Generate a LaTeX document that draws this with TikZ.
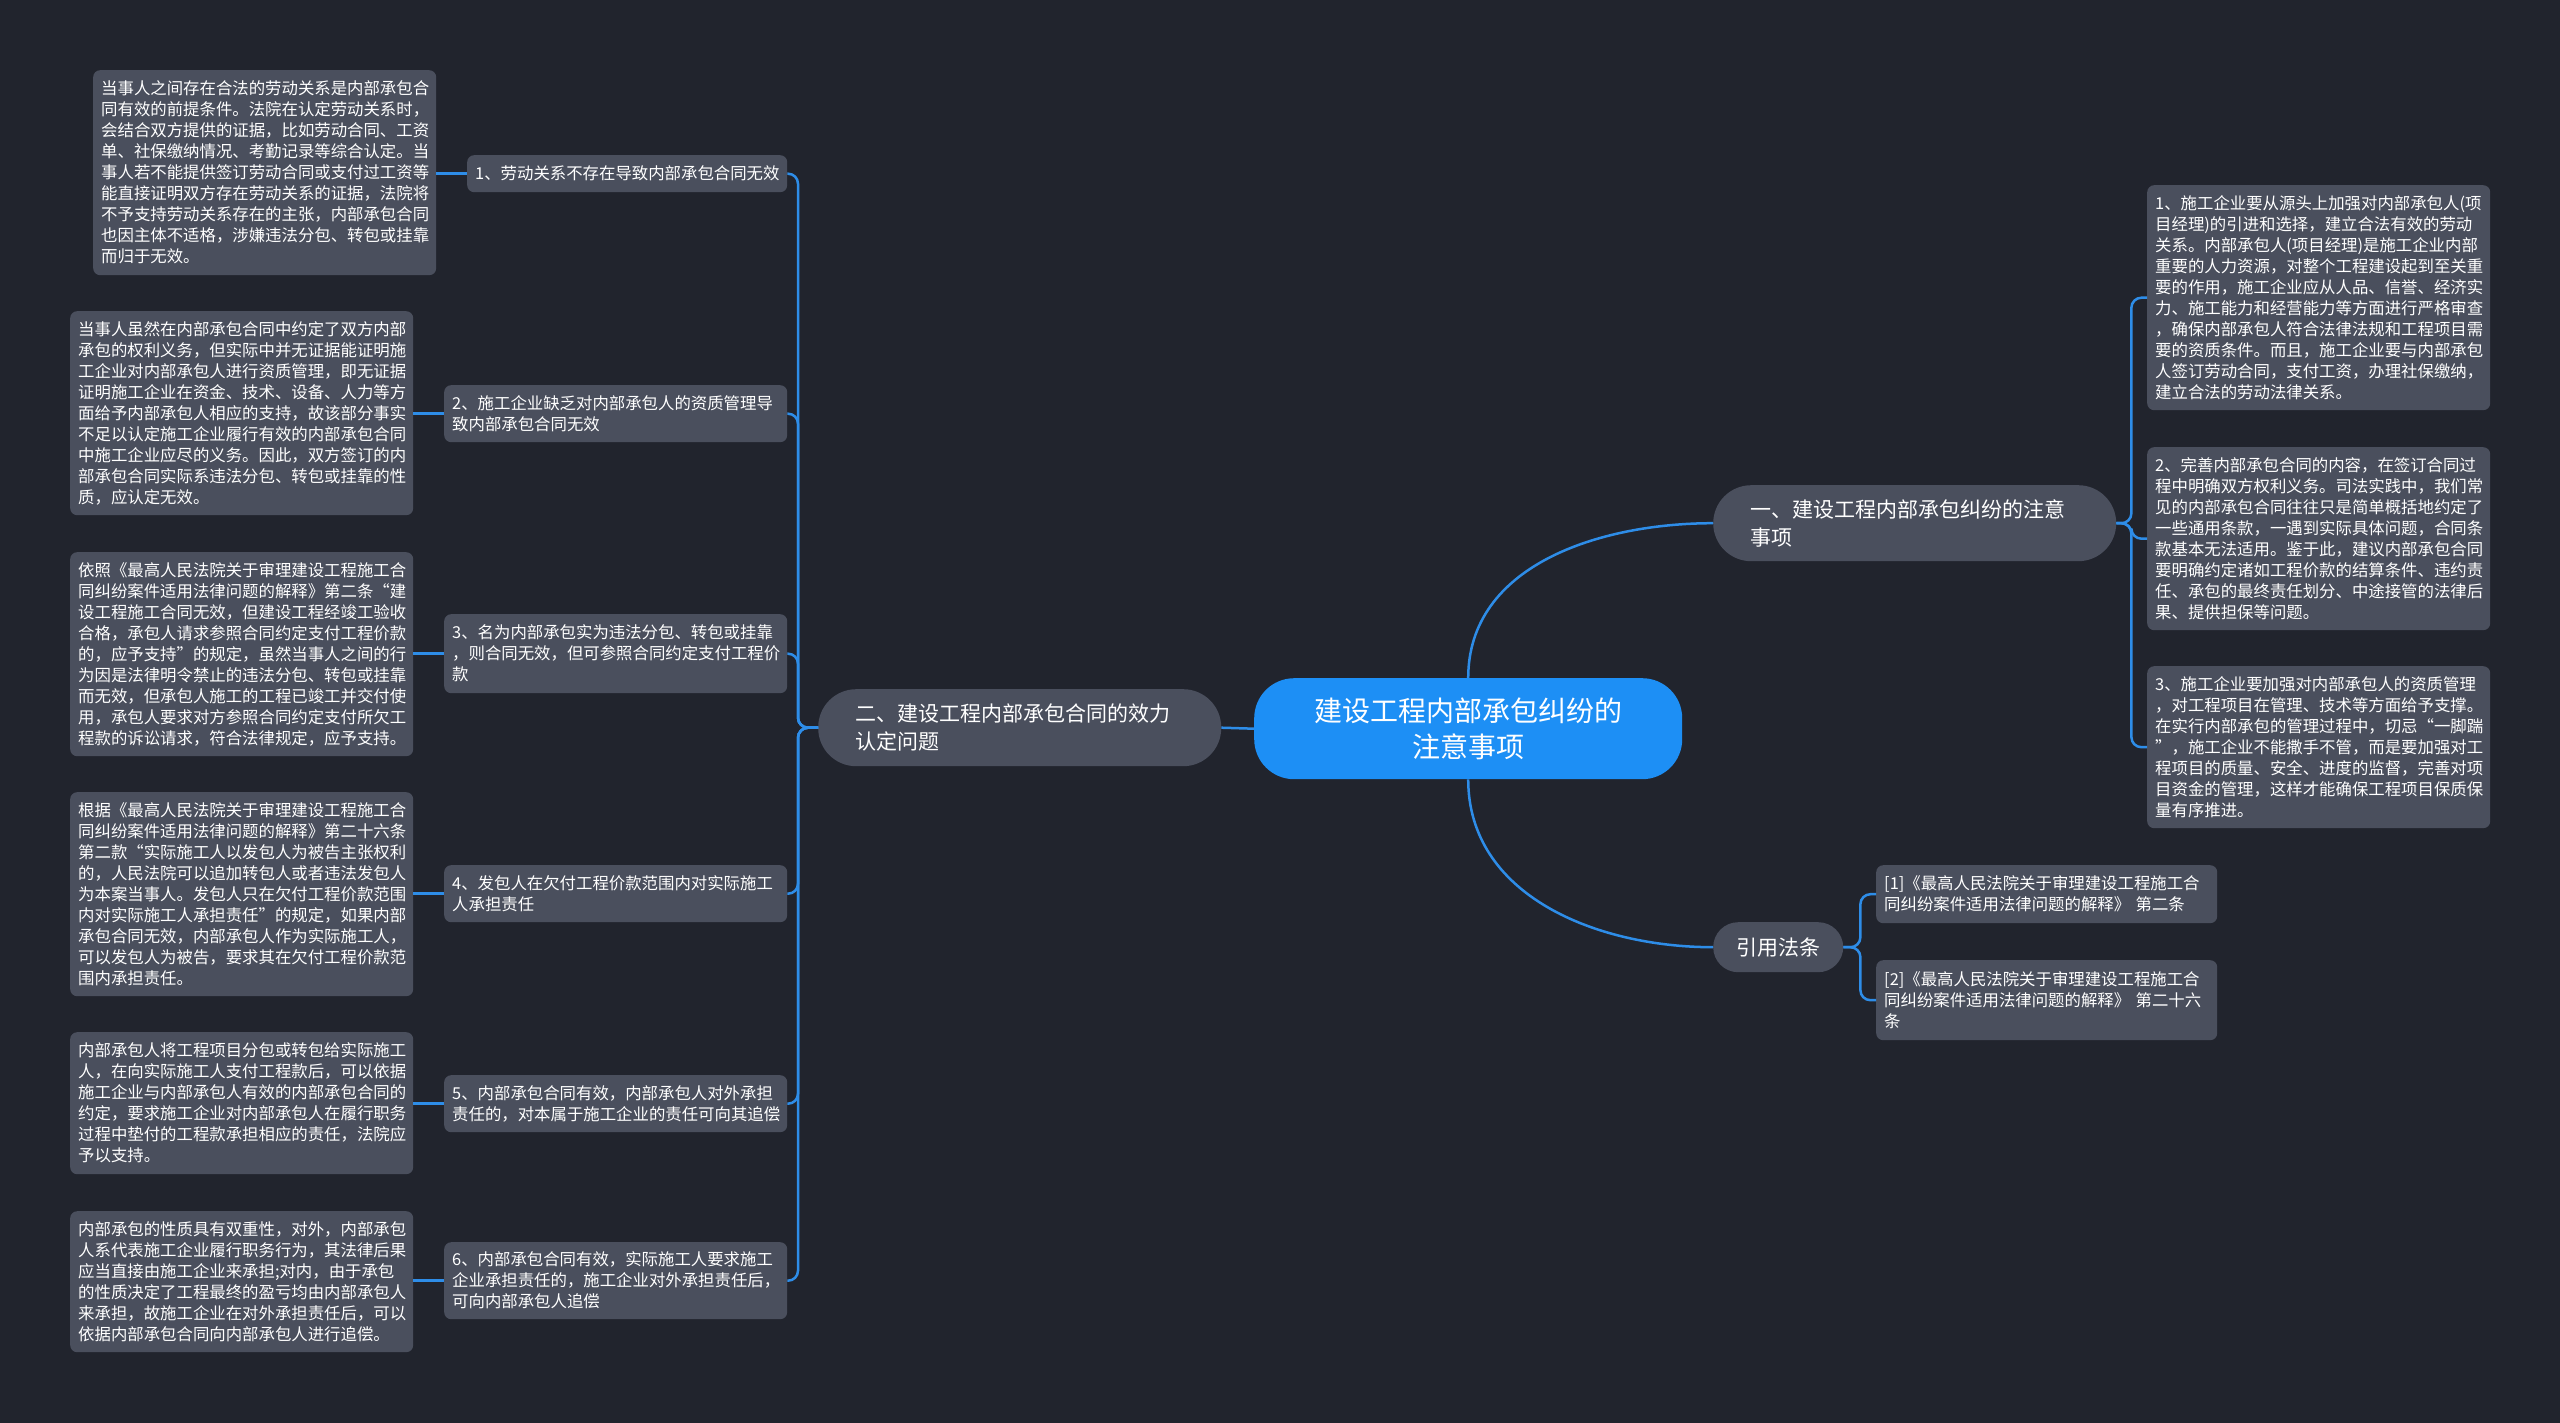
\documentclass[tikz,border=0pt]{standalone}
\usepackage{fontspec}
\setmainfont{Noto Sans CJK SC}
\definecolor{bgc}{HTML}{21242D}
\definecolor{boxc}{HTML}{4A4F5D}
\definecolor{linec}{HTML}{2E8DE8}
\definecolor{ctrc}{HTML}{1D8FF5}
\begin{document}
\begin{tikzpicture}[x=1pt,y=-1pt,
  leafbox/.style={anchor=north west, fill=boxc, rounded corners=7pt, text=white,
    font=\fontsize{16.4}{21}\selectfont, align=left, inner xsep=8pt, inner ysep=0pt,
    minimum width=343pt, text width=327pt},
  branchbox/.style={anchor=north west, fill=boxc, rounded corners=38pt, text=white,
    font=\fontsize{21}{28}\selectfont, align=left, inner xsep=37pt, inner ysep=0pt,
    minimum width=403pt, text width=329pt},
  link/.style={draw=linec, line width=2.5pt},
  bracket/.style={link, rounded corners=10pt}]
\fill[bgc] (0,0) rectangle (2560,1423);

% center
\node[anchor=north west, fill=ctrc, rounded corners=40pt, text=white, font=\fontsize{28}{36}\selectfont,
  align=center, minimum width=428pt, minimum height=101pt, inner sep=0pt] (ctr) at (1254,678)
  {建设工程内部承包纠纷的\\注意事项};

% branches
\node[branchbox, minimum height=76pt] (b1) at (1713,485) {一、建设工程内部承包纠纷的注意\\事项};
\node[branchbox, minimum height=77pt] (b2) at (818,689) {二、建设工程内部承包合同的效力\\认定问题};
\node[anchor=north west, fill=boxc, rounded corners=25pt, text=white, font=\fontsize{21}{28}\selectfont,
  minimum width=130pt, minimum height=50pt, inner sep=0pt] (b3) at (1713,922) {引用法条};

% right leaves
\node[leafbox, minimum height=225pt] (r1) at (2147,185) {1、施工企业要从源头上加强对内部承包人(项\\目经理)的引进和选择，建立合法有效的劳动\\关系。内部承包人(项目经理)是施工企业内部\\重要的人力资源，对整个工程建设起到至关重\\要的作用，施工企业应从人品、信誉、经济实\\力、施工能力和经营能力等方面进行严格审查\\，确保内部承包人符合法律法规和工程项目需\\要的资质条件。而且，施工企业要与内部承包\\人签订劳动合同，支付工资，办理社保缴纳，\\建立合法的劳动法律关系。};
\node[leafbox, minimum height=183pt] (r2) at (2147,447) {2、完善内部承包合同的内容，在签订合同过\\程中明确双方权利义务。司法实践中，我们常\\见的内部承包合同往往只是简单概括地约定了\\一些通用条款，一遇到实际具体问题，合同条\\款基本无法适用。鉴于此，建议内部承包合同\\要明确约定诸如工程价款的结算条件、违约责\\任、承包的最终责任划分、中途接管的法律后\\果、提供担保等问题。};
\node[leafbox, minimum height=162pt] (r3) at (2147,666) {3、施工企业要加强对内部承包人的资质管理\\，对工程项目在管理、技术等方面给予支撑。\\在实行内部承包的管理过程中，切忌“一脚踹\\”，施工企业不能撒手不管，而是要加强对工\\程项目的质量、安全、进度的监督，完善对项\\目资金的管理，这样才能确保工程项目保质保\\量有序推进。};

% citations
\node[leafbox, minimum width=341pt, text width=325pt, minimum height=58pt] (c1) at (1876,865) {[1]《最高人民法院关于审理建设工程施工合\\同纠纷案件适用法律问题的解释》 第二条};
\node[leafbox, minimum width=341pt, text width=325pt, minimum height=80pt] (c2) at (1876,960) {[2]《最高人民法院关于审理建设工程施工合\\同纠纷案件适用法律问题的解释》 第二十六\\条};

% middle level (left)
\node[leafbox, minimum width=320pt, text width=304pt, minimum height=37pt] (m1) at (467,155) {1、劳动关系不存在导致内部承包合同无效};
\node[leafbox, minimum height=57pt] (m2) at (444,385) {2、施工企业缺乏对内部承包人的资质管理导\\致内部承包合同无效};
\node[leafbox, minimum height=79pt] (m3) at (444,614) {3、名为内部承包实为违法分包、转包或挂靠\\，则合同无效，但可参照合同约定支付工程价\\款};
\node[leafbox, minimum height=57pt] (m4) at (444,865) {4、发包人在欠付工程价款范围内对实际施工\\人承担责任};
\node[leafbox, minimum height=57pt] (m5) at (444,1075) {5、内部承包合同有效，内部承包人对外承担\\责任的，对本属于施工企业的责任可向其追偿};
\node[leafbox, minimum height=77pt] (m6) at (444,1242) {6、内部承包合同有效，实际施工人要求施工\\企业承担责任的，施工企业对外承担责任后，\\可向内部承包人追偿};

% left leaves
\node[leafbox, minimum height=205pt] (l1) at (93,70) {当事人之间存在合法的劳动关系是内部承包合\\同有效的前提条件。法院在认定劳动关系时，\\会结合双方提供的证据，比如劳动合同、工资\\单、社保缴纳情况、考勤记录等综合认定。当\\事人若不能提供签订劳动合同或支付过工资等\\能直接证明双方存在劳动关系的证据，法院将\\不予支持劳动关系存在的主张，内部承包合同\\也因主体不适格，涉嫌违法分包、转包或挂靠\\而归于无效。};
\node[leafbox, minimum height=204pt] (l2) at (70,311) {当事人虽然在内部承包合同中约定了双方内部\\承包的权利义务，但实际中并无证据能证明施\\工企业对内部承包人进行资质管理，即无证据\\证明施工企业在资金、技术、设备、人力等方\\面给予内部承包人相应的支持，故该部分事实\\不足以认定施工企业履行有效的内部承包合同\\中施工企业应尽的义务。因此，双方签订的内\\部承包合同实际系违法分包、转包或挂靠的性\\质，应认定无效。};
\node[leafbox, minimum height=204pt] (l3) at (70,552) {依照《最高人民法院关于审理建设工程施工合\\同纠纷案件适用法律问题的解释》第二条“建\\设工程施工合同无效，但建设工程经竣工验收\\合格，承包人请求参照合同约定支付工程价款\\的，应予支持”的规定，虽然当事人之间的行\\为因是法律明令禁止的违法分包、转包或挂靠\\而无效，但承包人施工的工程已竣工并交付使\\用，承包人要求对方参照合同约定支付所欠工\\程款的诉讼请求，符合法律规定，应予支持。};
\node[leafbox, minimum height=204pt] (l4) at (70,792) {根据《最高人民法院关于审理建设工程施工合\\同纠纷案件适用法律问题的解释》第二十六条\\第二款“实际施工人以发包人为被告主张权利\\的，人民法院可以追加转包人或者违法发包人\\为本案当事人。发包人只在欠付工程价款范围\\内对实际施工人承担责任”的规定，如果内部\\承包合同无效，内部承包人作为实际施工人，\\可以发包人为被告，要求其在欠付工程价款范\\围内承担责任。};
\node[leafbox, minimum height=142pt] (l5) at (70,1032) {内部承包人将工程项目分包或转包给实际施工\\人，在向实际施工人支付工程款后，可以依据\\施工企业与内部承包人有效的内部承包合同的\\约定，要求施工企业对内部承包人在履行职务\\过程中垫付的工程款承担相应的责任，法院应\\予以支持。};
\node[leafbox, minimum height=141pt] (l6) at (70,1211) {内部承包的性质具有双重性，对外，内部承包\\人系代表施工企业履行职务行为，其法律后果\\应当直接由施工企业来承担;对内，由于承包\\的性质决定了工程最终的盈亏均由内部承包人\\来承担，故施工企业在对外承担责任后，可以\\依据内部承包合同向内部承包人进行追偿。};

% connectors
\draw[link] (ctr.north) to[out=90,in=180] (b1.west);
\draw[link] (ctr.south) to[out=-90,in=180] (b3.west);
\draw[link] (ctr.west) -- (b2.east);

\foreach \r in {r1,r2,r3} \draw[bracket] (b1.east) -- ++(15,0) |- (\r.west);
\foreach \c in {c1,c2} \draw[bracket] (b3.east) -- ++(17,0) |- (\c.west);
\foreach \m in {m1,m2,m3,m4,m5,m6} \draw[bracket] (b2.west) -- ++(-20,0) |- (\m.east);
\foreach \m/\l in {m1/l1,m2/l2,m3/l3,m4/l4,m5/l5,m6/l6} \draw[link] (\m.west) -- (\m.west -| \l.east);
\end{tikzpicture}
\end{document}
